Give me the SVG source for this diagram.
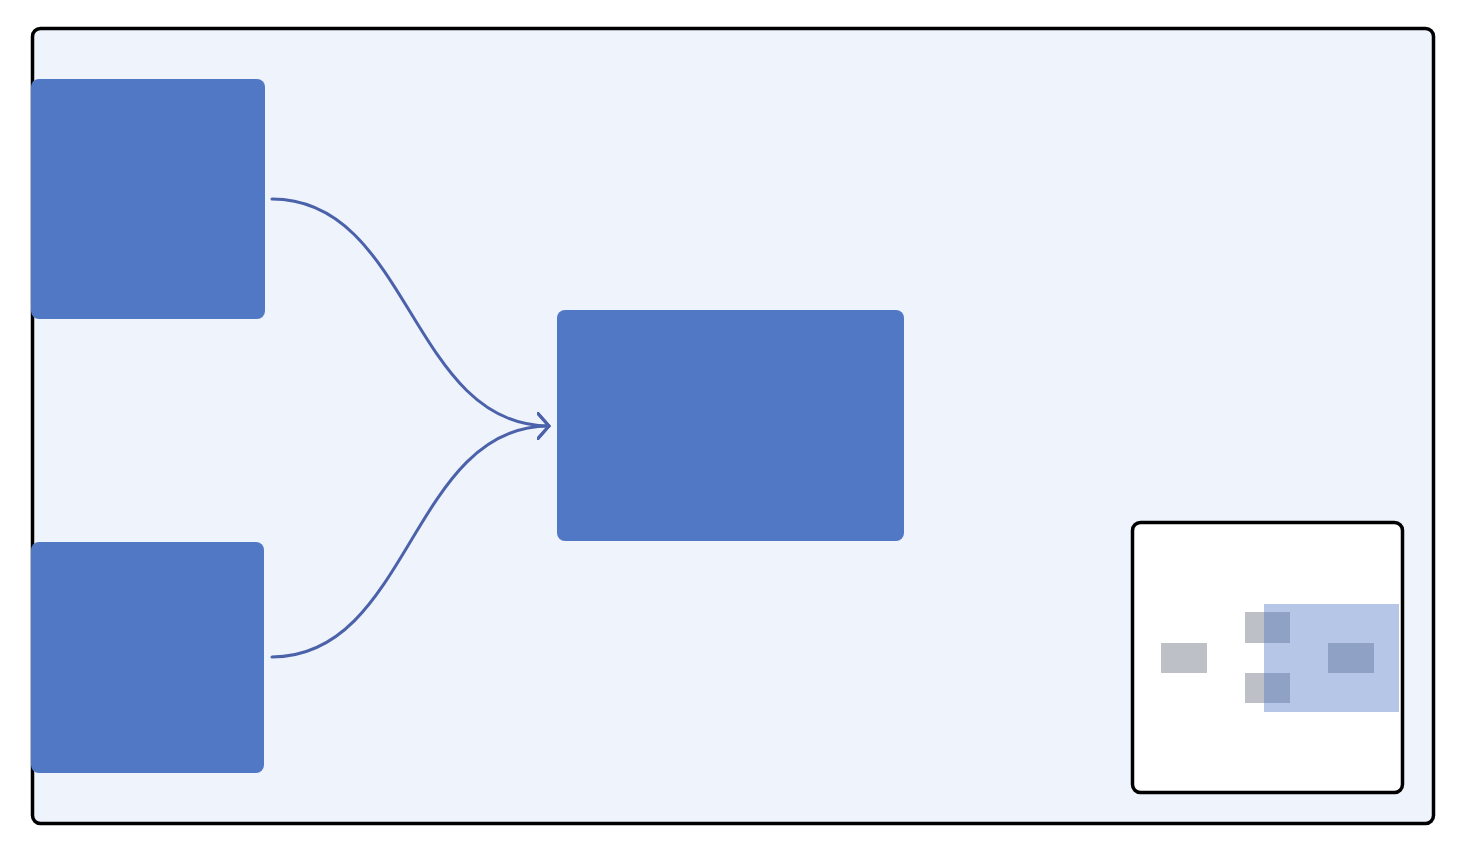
<svg xmlns="http://www.w3.org/2000/svg" width="1458" height="854" viewBox="0 0 1458 854">
  <style>
    .frame { fill: #eef3fc; stroke: #000; stroke-width: 3.5; }
    .node { fill: #5078c5; }
    .edge { fill: none; stroke: #4b62ab; stroke-width: 3; stroke-linecap: round; }
    .mini { fill: #fff; stroke: #000; stroke-width: 3.5; }
    .mnode { fill: #bdc0c6; }
    .view { fill: #5078c5; fill-opacity: 0.42; }
  </style>
  <defs>
    <marker id="arrow" viewBox="0 0 14 28" refX="12" refY="14" markerWidth="14" markerHeight="28" markerUnits="userSpaceOnUse" orient="auto">
      <path d="M1,1.5 L12,14 L1,26.5" fill="none" stroke="#4b62ab" stroke-width="3" stroke-linecap="round" stroke-linejoin="round"/>
    </marker>
  </defs>
  <rect class="frame" x="32.5" y="28.5" width="1401" height="795" rx="8"/>
  <g id="connectors">
    <path class="edge" d="M272,199 C410.5,199 410.5,426 549,426" marker-end="url(#arrow)"/>
    <path class="edge" d="M272,657 C410.5,657 410.5,426 549,426" marker-end="url(#arrow)"/>
  </g>
  <g id="node-a"><rect class="node" x="31" y="79" width="234" height="240" rx="8"/></g>
  <g id="node-b"><rect class="node" x="31" y="542" width="233" height="231" rx="8"/></g>
  <g id="node-c"><rect class="node" x="557" y="310" width="347" height="231" rx="8"/></g>
  <g id="minimap">
    <rect class="mini" x="1132.5" y="522.5" width="270" height="270" rx="8"/>
    <rect class="mnode" x="1161" y="643" width="46" height="30"/>
    <rect class="mnode" x="1245" y="612" width="45" height="31"/>
    <rect class="mnode" x="1245" y="673" width="45" height="30"/>
    <rect class="mnode" x="1328" y="643" width="46" height="30"/>
    <rect class="view" x="1264" y="604" width="135" height="108"/>
  </g>
</svg>
